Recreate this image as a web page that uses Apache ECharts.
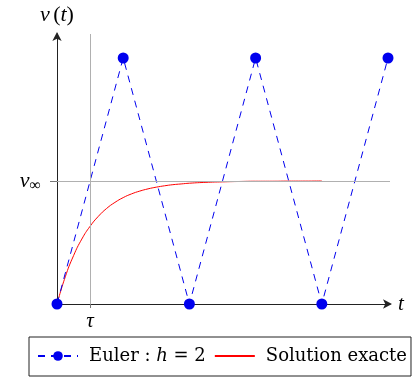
<!DOCTYPE html>
<html>
<head>
<meta charset="utf-8">
<script src="https://cdn.jsdelivr.net/npm/echarts@6/dist/echarts.min.js"></script>
<style>
  html, body { margin: 0; padding: 0; background: #fff; }
  #main { width: 419px; height: 378px; }
</style>
</head>
<body>
<div id="main"></div>
<script>
let chart = echarts.init(document.getElementById('main'));

// Euler scheme, step h = 2 (tau = 1, v_inf = 1)
let eulerT = [0, 2, 4, 6, 8, 10];
let eulerV = [0, 2, 0, 2, 0, 2];

// exact solution
let exactT = [0, 0.25, 0.5, 0.75, 1, 1.25, 1.5, 1.75, 2, 2.25, 2.5, 2.75, 3, 3.25, 3.5, 3.75,
              4, 4.5, 5, 5.5, 6, 6.5, 7, 7.5, 8];
let exactV = [0, 0.221, 0.393, 0.528, 0.632, 0.713, 0.777, 0.826, 0.865, 0.895, 0.918, 0.936,
              0.950, 0.961, 0.970, 0.976, 0.982, 0.989, 0.993, 0.996, 0.998, 0.998, 0.999, 0.999, 1.0];

let tauValue = 1;
let vInfValue = 1;

let font = 'Liberation Serif';
let legendFont = 'DejaVu Serif';

let option = {
    animation: false,
    grid: { left: 57, right: 29, top: 34, bottom: 74 },
    xAxis: {
        type: 'value',
        min: 0,
        max: 10.06,
        name: 't',
        nameGap: 8,
        nameTextStyle: { fontFamily: font, fontStyle: 'italic', fontSize: 21, color: '#000', verticalAlign: 'middle' },
        axisLine: { lineStyle: { color: '#222', width: 1 }, symbol: ['none', 'arrow'], symbolSize: [7, 9], symbolOffset: [0, 2] },
        axisTick: { show: true, customValues: [tauValue], length: 4, lineStyle: { color: '#777' } },
        axisLabel: {
            customValues: [tauValue],
            formatter: function () { return 'τ'; },
            fontFamily: font, fontStyle: 'italic', fontSize: 21, color: '#000', margin: 7
        },
        splitLine: { show: false }
    },
    yAxis: {
        type: 'value',
        min: 0,
        max: 2.195,
        name: '{i|v} {r|(}{i|t}{r|)}',
        nameGap: 8,
        nameTextStyle: {
            align: 'center',
            rich: {
                i: { fontFamily: font, fontStyle: 'italic', fontSize: 22, color: '#000' },
                r: { fontFamily: font, fontSize: 22, color: '#000' }
            }
        },
        axisLine: { lineStyle: { color: '#222', width: 1 }, symbol: ['none', 'arrow'], symbolSize: [7, 9], symbolOffset: [0, 2] },
        axisTick: { show: true, customValues: [vInfValue], length: 7, lineStyle: { color: '#777' } },
        axisLabel: {
            customValues: [vInfValue],
            formatter: function () { return '{i|v}{s|∞}'; },
            margin: 16,
            rich: {
                i: { fontFamily: font, fontStyle: 'italic', fontSize: 22, color: '#000' },
                s: { fontFamily: font, fontSize: 16, color: '#000', verticalAlign: 'bottom', padding: [9, 0, 0, 0] }
            }
        },
        splitLine: { show: false }
    },
    legend: {
        left: 29,
        top: 337,
        width: 395,
        padding: [10, 4, 11, 8],
        itemGap: 8,
        itemWidth: 40,
        itemHeight: 12,
        borderColor: '#222',
        borderWidth: 1,
        data: [
            { name: 'Euler' },
            { name: 'Solution exacte', itemStyle: { opacity: 0 } }
        ],
        formatter: function (name) {
            if (name === 'Euler') return '{r|Euler : }{i|h}{r| = 2}';
            return '{r|' + name + '}';
        },
        textStyle: {
            padding: [0, 0, 0, 6],
            rich: {
                r: { fontFamily: legendFont, fontSize: 18, color: '#000' },
                i: { fontFamily: legendFont, fontStyle: 'italic', fontSize: 18, color: '#000' }
            }
        }
    },
    series: [
        {
            name: 'Euler',
            type: 'line',
            data: eulerT.map((t, i) => [t, eulerV[i]]),
            symbol: 'circle',
            symbolSize: 11,
            clip: false,
            itemStyle: { color: '#0000ee' },
            lineStyle: { color: '#0000ee', width: 1, type: [7, 6] },
            z: 3
        },
        {
            name: 'Solution exacte',
            type: 'line',
            data: exactT.map((t, i) => [t, exactV[i]]),
            smooth: true,
            symbol: 'none',
            itemStyle: { color: '#ff0000' },
            lineStyle: { color: '#ff0000', width: 1 },
            z: 2,
            markLine: {
                silent: true,
                symbol: 'none',
                label: { show: false },
                lineStyle: { color: '#b0b0b0', width: 1, type: 'solid' },
                data: [{ xAxis: tauValue }, { yAxis: vInfValue }]
            }
        }
    ]
};

chart.setOption(option);
</script>
</body>
</html>
